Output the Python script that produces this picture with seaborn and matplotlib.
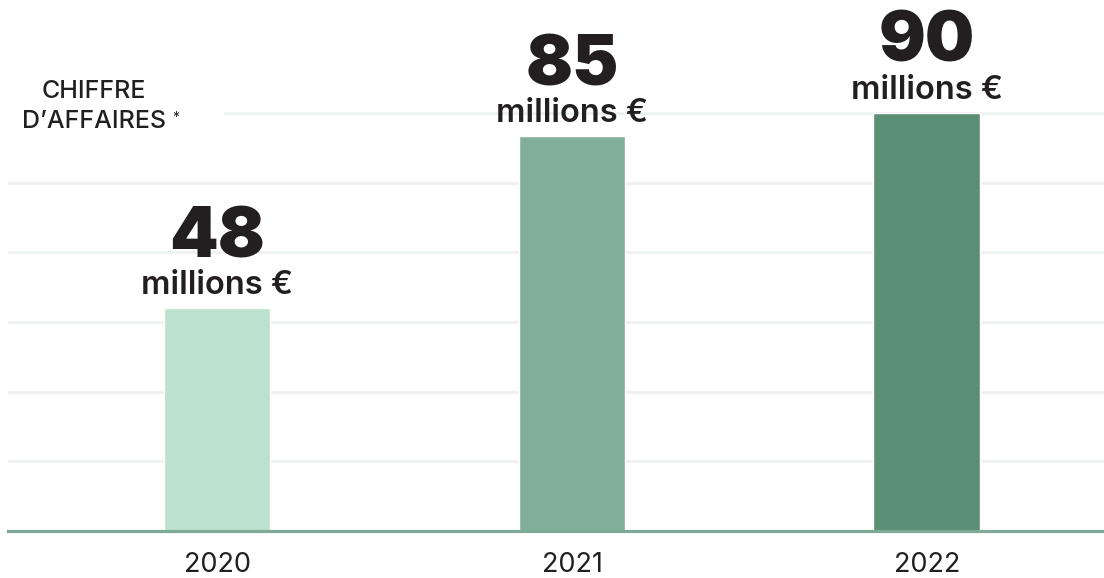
import matplotlib
matplotlib.use("Agg")
import matplotlib.pyplot as plt
import pandas as pd
import seaborn as sns

# Values
YEARS = ["2020", "2021", "2022"]
REVENUE = [48, 85, 90]
UNIT = "millions €"
COLORS = ["#bce1cf", "#82ae9c", "#5a8f74"]
GRID_VALUES = [15, 30, 45, 60, 75, 90]
TITLE = "CHIFFRE\nD\u2019AFFAIRES"


def main():
    sns.set_theme(style="white")
    plt.rcParams["font.family"] = ["Inter", "DejaVu Sans"]

    df = pd.DataFrame({"year": YEARS, "revenue": REVENUE})

    fig = plt.figure(figsize=(11.04, 5.78), dpi=100)
    ax = fig.add_axes([8 / 1104, 47 / 578, 1 - 8 / 1104, 531 / 578])

    # light background gridlines (top one starts after the title)
    for v in GRID_VALUES:
        xmin = 0.198 if v == GRID_VALUES[-1] else 0.0
        ax.axhline(v, xmin=xmin, xmax=1, color="#eef2f0", lw=2.2, zorder=0)

    sns.barplot(data=df, x="year", y="revenue", hue="year", palette=COLORS,
                dodge=False, width=0.3, legend=False, saturation=1, ax=ax, zorder=2)

    ax.set_xlim(-0.59, 2.5)
    ax.set_ylim(0, 114.3)
    ax.set_yticks([])
    ax.set_xlabel("")
    ax.set_ylabel("")
    for s in ["top", "left", "right"]:
        ax.spines[s].set_visible(False)
    ax.spines["bottom"].set_color("#7fa999")
    ax.spines["bottom"].set_linewidth(2.3)
    ax.tick_params(axis="x", length=0, pad=15, labelsize=19.5, labelcolor="#231f20")

    for i, v in enumerate(REVENUE):
        ax.annotate(str(v), (i, v), xytext=(0, 51), textcoords="offset pixels",
                    ha="center", va="baseline", fontsize=50, fontweight="black",
                    color="#231f20")
        ax.annotate(UNIT, (i, v), xytext=(0, 14), textcoords="offset pixels",
                    ha="center", va="baseline", fontsize=23.5, fontweight="semibold",
                    color="#231f20")

    fig.text(94 / 1104, 1 - 128 / 578, TITLE, ha="center", va="baseline",
             multialignment="center", fontsize=18, fontweight="medium",
             color="#231f20", linespacing=1.4)
    fig.text(172 / 1104, 1 - 122 / 578, "*", fontsize=10, color="#231f20")

    fig.savefig("out.png", dpi=100)


if __name__ == "__main__":
    main()
